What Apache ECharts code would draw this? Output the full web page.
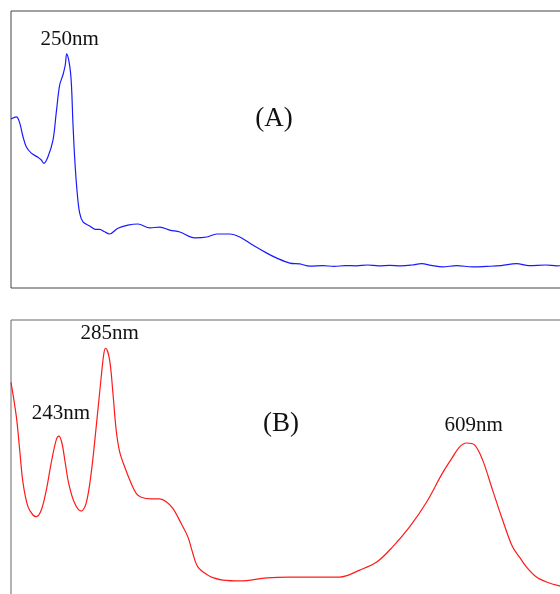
<!DOCTYPE html>
<html>
<head>
<meta charset="utf-8">
<script src="https://cdn.jsdelivr.net/npm/echarts@6/dist/echarts.min.js"></script>
<style>
  html, body { margin: 0; padding: 0; background: #fff; }
  #chart { width: 560px; height: 594px; }
</style>
</head>
<body>
<div id="chart"></div>
<script>
// UV-Vis absorption spectra (relative absorbance, wavelength in nm)
const wavelengthRange = [200, 700];

// Spectrum A
const spectrumA_nm = [200, 204.8, 207.8, 210.8, 213.7, 218.2, 224.2, 227.2, 229.6, 233.2, 237.7, 240.6, 243.7, 246.6, 248.7, 250,
  253.5, 255.6, 257.1, 259.2, 261.6, 264.6, 270.6, 275.6, 279.6, 284.0, 288.5, 296.0, 305.0, 313.9, 324.7, 333.6, 342.6, 351.6,
  365.0, 375.8, 384.8, 396.4, 405.4, 417.0, 429.6, 438.6, 450.2, 459.2, 468.2, 480, 490, 500, 510, 520, 530, 540, 550, 560,
  568.6, 577, 587.4, 600, 614.3, 626.9, 640, 653.8, 665, 680, 690, 700];
const spectrumA_abs = [61.0, 61.8, 59.6, 54.6, 51.0, 48.7, 47.2, 46.2, 45.0, 47.4, 53.4, 63.2, 73.3, 76.9, 80.5, 84.5,
  77.6, 59.6, 47.4, 35.4, 27.1, 23.9, 22.4, 21.2, 21.2, 20.3, 19.5, 21.6, 22.7, 23.1, 21.7, 22.0, 20.9, 20.2,
  18.1, 18.4, 19.5, 19.5, 18.4, 15.5, 12.6, 10.8, 9.0, 8.7, 7.9, 8.1, 7.8, 8.1, 8.0, 8.3, 8.0, 8.2, 8.0, 8.3,
  8.8, 8.2, 7.6, 8.1, 7.6, 7.8, 8.1, 8.8, 8.1, 8.3, 8.0, 8.2];

// Spectrum B
const spectrumB_nm = [200, 204.8, 207.8, 210.8, 215.2, 219.7, 222.7, 227.2, 231.7, 236.1, 240.6, 243, 245.7, 248.7, 251.7,
  257.1, 263.0, 267.5, 272.0, 276.5, 281.0, 283.4, 285, 288.5, 291.5, 294.4, 297.5, 302.0, 307.9, 312.4, 316.9, 325.8,
  333.4, 339.3, 345.3, 352.7, 358.7, 363.2, 367.7, 376.7, 381.2, 390.1, 405.4, 429.6, 450.2, 495.1, 513.0, 528.3, 542.6,
  557.8, 573.1, 587.4, 596.4, 602.7, 609, 616.1, 623.3, 632.3, 641.3, 650.2, 656.5, 662.8, 671.7, 680.7, 692.4, 700];
const spectrumB_abs = [77.5, 65.1, 53.1, 41.2, 32.6, 29.6, 29.0, 31.4, 38.6, 48.4, 56.7, 58.1, 55.6, 48.4, 41.2,
  33.9, 31.0, 33.9, 44.8, 61.5, 79.5, 88.0, 89.8, 85.6, 73.6, 60.3, 52.5, 47.0, 41.0, 37.4, 36.0, 35.4,
  35.4, 34.4, 32.0, 26.6, 21.8, 15.8, 10.9, 7.9, 7.0, 6.1, 5.8, 6.9, 7.2, 7.2, 9.7, 12.6, 18.1,
  25.3, 34.3, 44.8, 50.5, 54.2, 55.6, 54.9, 49.5, 38.6, 27.8, 18.1, 14.4, 10.8, 7.2, 5.4, 4.0, 3.5];

// Peak annotations: [wavelength, absorbance]
const peaksA = [[250, 84.5]];
const peaksB = [[243, 58.1], [285, 89.8], [609, 55.6]];
const panelLabels = ['(A)', '(B)'];

const zip = (xs, ys) => xs.map((x, i) => [x, ys[i]]);
const serif = "'Liberation Serif', 'Times New Roman', serif";

function peakMarks(peaks, offsets) {
  return {
    symbol: 'circle',
    symbolSize: 1,
    itemStyle: { color: 'rgba(0,0,0,0)' },
    label: {
      show: true,
      position: 'inside',
      fontFamily: serif,
      fontSize: 21,
      color: '#111',
      formatter: p => p.value
    },
    data: peaks.map((p, i) => ({
      coord: p,
      value: p[0] + 'nm',
      label: { offset: offsets[i] }
    }))
  };
}

const chart = echarts.init(document.getElementById('chart'), null, { renderer: 'canvas' });

const hiddenX = gi => ({
  type: 'value', gridIndex: gi, min: wavelengthRange[0], max: wavelengthRange[1],
  axisLine: { show: false }, axisTick: { show: false }, axisLabel: { show: false }, splitLine: { show: false }
});
const hiddenY = gi => ({
  type: 'value', gridIndex: gi, min: 0, max: 100,
  axisLine: { show: false }, axisTick: { show: false }, axisLabel: { show: false }, splitLine: { show: false }
});

chart.setOption({
  animation: false,
  backgroundColor: '#fff',
  grid: [
    // both panels run past the right edge (and panel B past the bottom edge) of the page
    { left: 11, top: 11, width: 557, height: 277, outerBoundsMode: 'none', containLabel: false,
      show: true, borderColor: '#444', borderWidth: 1 },
    { left: 11, top: 320, width: 557, height: 277, outerBoundsMode: 'none', containLabel: false,
      show: true, borderColor: '#666', borderWidth: 1 }
  ],
  xAxis: [hiddenX(0), hiddenX(1)],
  yAxis: [hiddenY(0), hiddenY(1)],
  graphic: [
    { type: 'text', x: 274, y: 119, style: { text: panelLabels[0], font: '27px ' + serif, fill: '#111', textAlign: 'center', textVerticalAlign: 'middle' } },
    { type: 'text', x: 281, y: 424, style: { text: panelLabels[1], font: '27px ' + serif, fill: '#111', textAlign: 'center', textVerticalAlign: 'middle' } }
  ],
  series: [
    {
      type: 'line', xAxisIndex: 0, yAxisIndex: 0,
      data: zip(spectrumA_nm, spectrumA_abs),
      smooth: 0.35, showSymbol: false,
      lineStyle: { color: '#1a1aff', width: 1.2 },
      markPoint: peakMarks(peaksA, [[3, -14]])
    },
    {
      type: 'line', xAxisIndex: 1, yAxisIndex: 1,
      data: zip(spectrumB_nm, spectrumB_abs),
      smooth: 0.35, showSymbol: false,
      lineStyle: { color: '#ff1a1a', width: 1.2 },
      markPoint: peakMarks(peaksB, [[2, -23], [4, -15], [7, -18]])
    }
  ]
});
</script>
</body>
</html>
